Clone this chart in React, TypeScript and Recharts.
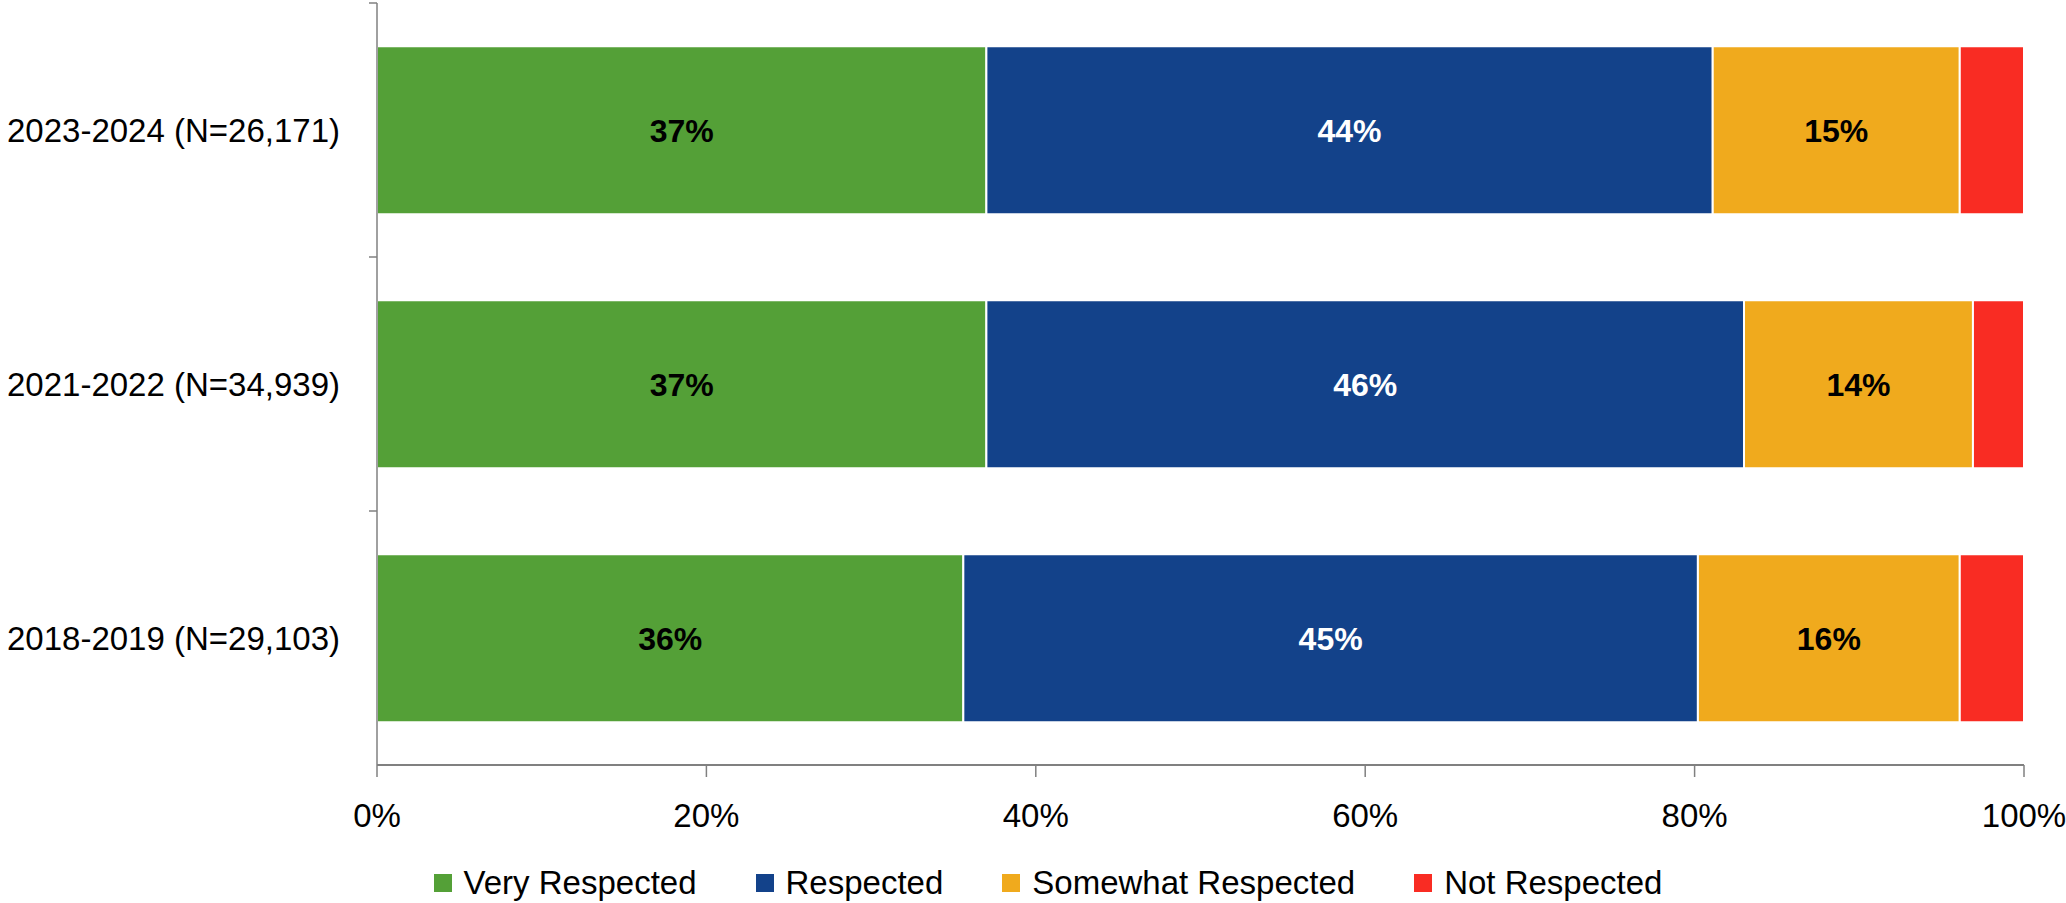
import React from "react";
import { BarChart, Bar, XAxis, YAxis, Legend, LabelList } from "recharts";

const CATEGORIES = ["2023-2024 (N=26,171)", "2021-2022 (N=34,939)", "2018-2019 (N=29,103)"];
const VERY_RESPECTED = [37.0, 37.0, 35.6];
const RESPECTED = [44.1, 46.0, 44.6];
const SOMEWHAT_RESPECTED = [15.0, 13.9, 15.9];
const NOT_RESPECTED = [3.9, 3.1, 3.9];
const X_TICKS = [0, 20, 40, 60, 80, 100];

const SERIES = [
  { key: "very", name: "Very Respected", color: "#54A037", label: "#000000" },
  { key: "resp", name: "Respected", color: "#13428A", label: "#FFFFFF" },
  { key: "some", name: "Somewhat Respected", color: "#F0AA1D", label: "#000000" },
  { key: "not", name: "Not Respected", color: "#F92C23", label: null },
];

const FONT = "'Liberation Sans', Arial, sans-serif";
const WIDTH = 2066;
const HEIGHT = 903;
const AXIS_X = 377;
const PLOT_TOP = 3;
const PLOT_BOTTOM = 765;
const HALF_BAND = (PLOT_BOTTOM - PLOT_TOP) / CATEGORIES.length / 2;
const AXIS_COLOR = "#808080";

const data = CATEGORIES.map((name, i) => ({
  name,
  very: VERY_RESPECTED[i],
  resp: RESPECTED[i],
  some: SOMEWHAT_RESPECTED[i],
  not: NOT_RESPECTED[i],
}));

// category label plus a tick mark on the band boundary (Excel style)
function YTick(props: any) {
  const { y, payload } = props;
  return (
    <g>
      <line x1={AXIS_X - 8} x2={AXIS_X} y1={y - HALF_BAND} y2={y - HALF_BAND} stroke={AXIS_COLOR} strokeWidth={1.5} />
      <text x={AXIS_X - 37} y={y} dy="0.355em" textAnchor="end" fontSize={33} fontFamily={FONT} fill="#000">
        {payload.value}
      </text>
    </g>
  );
}

const renderLegend = () => (
  <div
    style={{
      display: "flex",
      justifyContent: "center",
      alignItems: "center",
      height: 40,
      paddingLeft: 30,
      fontFamily: FONT,
      fontSize: 33,
      color: "#000",
    }}
  >
    {SERIES.map((s, i) => (
      <span key={s.key} style={{ display: "flex", alignItems: "center", marginLeft: i === 0 ? 0 : 59 }}>
        <span style={{ width: 18, height: 18, background: s.color, marginRight: 12, display: "inline-block" }} />
        {s.name}
      </span>
    ))}
  </div>
);

export default function App() {
  return (
    <div style={{ position: "absolute", left: 0, top: 0, width: WIDTH, height: HEIGHT, background: "#fff" }}>
      <BarChart
        width={WIDTH}
        height={HEIGHT}
        data={data}
        layout="vertical"
        margin={{ top: PLOT_TOP, right: WIDTH - 2024, left: 0, bottom: 0 }}
        barCategoryGap="17%"
      >
        <XAxis
          type="number"
          domain={[0, 100]}
          ticks={X_TICKS}
          tickFormatter={(v) => `${v}%`}
          height={98}
          axisLine={{ stroke: AXIS_COLOR, strokeWidth: 2 }}
          tickLine={{ stroke: AXIS_COLOR, strokeWidth: 1.5 }}
          tickSize={12}
          tickMargin={27}
          tick={{ fontSize: 33, fontFamily: FONT, fill: "#000" }}
          interval={0}
        />
        <YAxis
          type="category"
          dataKey="name"
          width={AXIS_X}
          axisLine={{ stroke: AXIS_COLOR, strokeWidth: 1.5 }}
          tickLine={false}
          tick={<YTick />}
          interval={0}
        />
        <Legend verticalAlign="bottom" content={renderLegend} wrapperStyle={{ left: 0, width: WIDTH }} />
        {SERIES.map((s) => (
          <Bar
            key={s.key}
            dataKey={s.key}
            name={s.name}
            stackId="a"
            fill={s.color}
            stroke="#FFFFFF"
            strokeWidth={2}
            isAnimationActive={false}
          >
            {s.label && (
              <LabelList
                dataKey={s.key}
                position="center"
                formatter={(v: any) => `${Math.round(Number(v))}%`}
                fill={s.label}
                fontSize={32}
                fontWeight="bold"
                fontFamily={FONT}
              />
            )}
          </Bar>
        ))}
      </BarChart>
    </div>
  );
}
